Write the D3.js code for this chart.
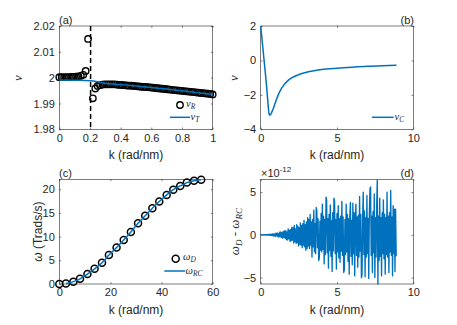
<!DOCTYPE html>
<html><head><meta charset="utf-8">
<script src="https://cdn.jsdelivr.net/npm/d3@7"></script>
<style>body{margin:0;background:#fff} svg{display:block}</style>
</head><body>
<svg id="c" width="457" height="325"></svg>
<script>
// ---------- Panel (a) ----------
const kR = [0,0.0156,0.0313,0.0469,0.0625,0.0781,0.0938,0.1094,0.125,0.1406,0.1563,0.1719,0.1875,
  0.2188,0.2344,0.25,0.2656,0.2813,0.2969,0.3125,0.3281,0.3438,0.3594,0.375,0.3906,0.4063,0.4219,0.4375,
  0.4531,0.4688,0.4844,0.5,0.5156,0.5313,0.5469,0.5625,0.5781,0.5938,0.6094,0.625,0.6406,0.6563,0.6719,
  0.6875,0.7031,0.7188,0.7344,0.75,0.7656,0.7813,0.7969,0.8125,0.8281,0.8438,0.8594,0.875,0.8906,0.9063,
  0.9219,0.9375,0.9531,0.9688,0.9844,1.0];
const nuR = [2.0002,2.0002,2.0002,2.0002,2.0002,2.0003,2.0003,2.0004,2.0005,2.0007,2.0011,2.0026,2.0150,
  1.9920,1.9958,1.9968,1.9971,1.9973,1.9974,1.9974,1.9974,1.9974,1.9974,1.9973,1.9972,1.9972,1.9971,1.9970,
  1.9969,1.9969,1.9968,1.9967,1.9966,1.9965,1.9964,1.9964,1.9963,1.9962,1.9961,1.9960,1.9959,1.9958,1.9957,
  1.9956,1.9955,1.9954,1.9953,1.9952,1.9951,1.9950,1.9949,1.9948,1.9947,1.9946,1.9945,1.9944,1.9943,1.9942,
  1.9941,1.9940,1.9939,1.9938,1.9937,1.9935];
const kT = [0,0.1,0.2,0.25,0.3,0.35,0.4,0.5,0.6,0.7,0.8,0.9,1.0];
const nuT = [1.9991,1.9990,1.9988,1.9984,1.9978,1.9975,1.9973,1.9968,1.9962,1.9956,1.9949,1.9942,1.9935];
const kRes = 0.204;
const aXTicks = [0,0.2,0.4,0.6,0.8,1];
const aYTicks = [1.98,1.99,2,2.01,2.02];

// ---------- Panel (b) ----------
const kC = [0,0.1,0.2,0.3,0.4,0.45,0.5,0.55,0.6,0.65,0.7,0.8,0.9,1.0,1.15,1.3,1.5,1.75,2.0,2.5,3,3.5,4,5,6,7,8,8.9];
const nuC = [2.0,1.1,0.2,-0.7,-1.65,-2.2,-2.75,-3.1,-3.18,-3.15,-3.05,-2.85,-2.6,-2.35,-2.0,-1.72,-1.45,-1.2,-1.03,-0.82,-0.69,-0.6,-0.53,-0.45,-0.39,-0.34,-0.31,-0.28];
const bXTicks = [0,5,10];
const bYTicks = [-4,-2,0,2];

// ---------- Panel (c) ----------
const kD = [0,2.6,5.5,8.1,11.0,13.8,16.7,19.4,22.4,25.2,28.0,30.8,33.6,36.4,39.1,42.0,44.6,47.3,49.9,52.7,55.5];
const wD = [0,0.1,0.5,1.1,2.1,3.2,4.5,6.1,7.7,9.3,11.0,12.8,14.4,16.0,17.4,18.8,19.9,20.7,21.4,21.8,22.0];
const kRC = [2.6,5.5,8.1,11.0,13.8,16.7,19.4,22.4,25.2,28.0,30.8,33.6,36.4,39.1,42.0,44.6,47.3,49.9,52.7,55.5];
const wRC = [0.1,0.5,1.1,2.1,3.2,4.5,6.1,7.7,9.3,11.0,12.8,14.4,16.0,17.4,18.8,19.9,20.7,21.4,21.8,22.0];
const cXTicks = [0,20,40,60];
const cYTicks = [0,5,10,15,20];

// ---------- Panel (d) ---------- (difference, units of 1e-12)
const kDiffStart = 0, kDiffStep = 0.04;
const wDiff = [
  0.00,0.02,-0.02,0.03,-0.02,0.02,-0.03,0.03,-0.02,0.04,
  -0.04,0.05,-0.03,0.06,-0.05,0.08,-0.06,0.07,-0.09,0.1,
  -0.1,0.12,-0.15,0.1,-0.18,0.2,-0.12,0.22,-0.2,0.15,
  -0.25,0.3,-0.2,0.35,-0.3,0.25,-0.38,0.4,-0.3,0.45,
  -0.4,0.5,-0.55,0.35,-0.6,0.7,-0.45,0.55,-0.75,0.6,
  -0.7,0.9,-0.6,0.8,-0.95,1.1,-0.8,0.7,-1.0,1.2,
  -0.9,1.0,-1.3,0.85,-1.1,1.4,-1.2,1.1,-1.5,1.3,
  -1.2,1.7,-1.4,1.2,-1.8,1.5,-1.6,2.0,-1.3,1.8,
  -1.6,2.4,-1.2,1.5,-2.6,1.8,-1.4,2.9,-2.0,1.3,
  -2.2,3.2,2.8,-1.5,1.9,-3.0,-2.7,1.6,-1.8,2.5,
  -2.0,3.6,-1.7,2.2,-3.4,1.8,-2.3,4.4,4.1,-2.1,
  1.9,-3.9,2.4,-1.8,3.5,-2.5,1.7,-4.3,2.6,-1.9,
  4.3,4.0,-2.2,1.8,-4.0,2.5,-2.0,3.4,-2.7,1.9,
  -3.2,2.2,-1.9,3.9,-2.4,2.1,-4.4,-4.1,1.8,-2.3,
  3.6,-2.0,2.4,-3.1,1.9,-4.6,2.2,3.8,-2.5,1.7,
  -3.5,3.7,-2.2,2.6,-4.8,1.9,3.6,-2.4,2.1,-3.8,
  2.3,-2.6,4.5,-1.9,2.4,-5.0,-4.7,2.2,5.0,-2.3,
  2.8,-4.9,2.0,-2.6,4.6,-2.2,1.9,-5.1,2.5,5.4,
  5.6,-2.4,2.2,-4.4,2.7,-2.1,4.8,-5.0,2.0,-2.6,
  3.4,6.45,-5.75,2.2,-3.0,4.3,-2.5,2.0,-4.8,2.6,
  -2.2,4.1,-2.8,2.4,-4.6,2.0,-2.3,5.0,-2.6,2.2,
  -4.4,2.6,-2.0,5.2,-2.4,2.1,-4.8,3.4,-2.2,3.0,
  -4.3,3.0,-2.5];
const dXTicks = [0,5,10];
const dYTicks = [-5,0,5];

const BLUE = "#0072BD", TXT = "#262626", AXC = "#262626";
const svg = d3.select("#c");
const TICKFONT = "Liberation Sans, Arial, sans-serif";
const SERIF = "Liberation Serif, Times New Roman, serif";

function makeAxes(box, xd, yd, xt, yt) {
  const x = d3.scaleLinear().domain(xd).range([box.x0, box.x1]);
  const y = d3.scaleLinear().domain(yd).range([box.y1, box.y0]);
  const g = svg.append("g");
  const tl = 1.8;
  const style = sel => {
    sel.select(".domain").remove();
    sel.selectAll(".tick line").attr("stroke", AXC).attr("stroke-width", 0.6);
    sel.selectAll(".tick text").attr("fill", TXT).style("font-family", TICKFONT).style("font-size", "11px");
  };
  g.append("g").attr("transform", `translate(0,${box.y1})`)
    .call(d3.axisBottom(x).tickValues(xt).tickSize(-tl).tickPadding(4.5).tickFormat(d3.format("~g"))).call(style);
  g.append("g").attr("transform", `translate(0,${box.y0})`)
    .call(d3.axisTop(x).tickValues(xt).tickSize(-tl).tickFormat("")).call(style);
  g.append("g").attr("transform", `translate(${box.x0},0)`)
    .call(d3.axisLeft(y).tickValues(yt).tickSize(-tl).tickPadding(4.5).tickFormat(d3.format("~g"))).call(style);
  g.append("g").attr("transform", `translate(${box.x1},0)`)
    .call(d3.axisRight(y).tickValues(yt).tickSize(-tl).tickFormat("")).call(style);
  g.append("rect").attr("x", box.x0).attr("y", box.y0).attr("width", box.x1 - box.x0).attr("height", box.y1 - box.y0)
    .attr("fill", "none").attr("stroke", AXC).attr("stroke-width", 0.6);
  svg.append("text").attr("x", (box.x0 + box.x1) / 2).attr("y", box.y1 + 30).attr("text-anchor", "middle")
    .attr("fill", TXT).style("font-family", TICKFONT).style("font-size", "12px").text("k (rad/nm)");
  return {x, y};
}

function legendSub(x, yb, main, sub, size) {
  const t = svg.append("text").attr("x", x).attr("y", yb).attr("fill", TXT)
    .style("font-family", SERIF).style("font-style", "italic").style("font-size", size + "px");
  t.append("tspan").text(main);
  t.append("tspan").attr("dy", 2).style("font-size", (size * 0.7) + "px").text(sub);
  return t;
}
function rotLabel(cx, cy, build) {
  const t = svg.append("text").attr("transform", `translate(${cx},${cy}) rotate(-90)`).attr("text-anchor", "middle").attr("fill", TXT);
  build(t);
}

// ---- (a)
const boxA = {x0: 59.3, x1: 212.7, y0: 26, y1: 129.3};
const A = makeAxes(boxA, [0, 1], [1.98, 2.02], aXTicks, aYTicks);
svg.append("line").attr("x1", A.x(kRes)).attr("x2", A.x(kRes)).attr("y1", A.y(2.02)).attr("y2", A.y(1.98))
  .attr("stroke", "#000").attr("stroke-width", 1.5).attr("stroke-dasharray", "5,3");
svg.append("g").selectAll("circle").data(kR.map((k, i) => [k, nuR[i]])).join("circle")
  .attr("cx", d => A.x(d[0])).attr("cy", d => A.y(d[1])).attr("r", 3.2)
  .attr("fill", "none").attr("stroke", "#000").attr("stroke-width", 1.4);
svg.append("path").datum(kT.map((k, i) => [k, nuT[i]]))
  .attr("d", d3.line().x(d => A.x(d[0])).y(d => A.y(d[1])).curve(d3.curveMonotoneX))
  .attr("fill", "none").attr("stroke", BLUE).attr("stroke-width", 1.5);
rotLabel(22, 78, t => t.style("font-family", SERIF).style("font-style", "italic").style("font-size", "13px").text("ν"));
svg.append("text").attr("x", 59).attr("y", 23.5).attr("fill", TXT).style("font-family", TICKFONT).style("font-size", "11px").text("(a)");
svg.append("circle").attr("cx", 180).attr("cy", 105).attr("r", 3.2).attr("fill", "none").attr("stroke", "#000").attr("stroke-width", 1.4);
legendSub(186, 106.5, "ν", "R", 10.5);
svg.append("line").attr("x1", 170).attr("x2", 190).attr("y1", 117.3).attr("y2", 117.3).attr("stroke", BLUE).attr("stroke-width", 1.5);
legendSub(190.5, 119.8, "ν", "T", 10.5);

// ---- (b)
const boxB = {x0: 260.7, x1: 413.3, y0: 26, y1: 129.3};
const B = makeAxes(boxB, [0, 10], [-4, 2], bXTicks, bYTicks);
svg.append("path").datum(kC.map((k, i) => [k, nuC[i]]))
  .attr("d", d3.line().x(d => B.x(d[0])).y(d => B.y(d[1])).curve(d3.curveMonotoneX))
  .attr("fill", "none").attr("stroke", BLUE).attr("stroke-width", 1.5);
rotLabel(238, 78, t => t.style("font-family", SERIF).style("font-style", "italic").style("font-size", "13px").text("ν"));
svg.append("text").attr("x", 414).attr("y", 23.5).attr("text-anchor", "end").attr("fill", TXT).style("font-family", TICKFONT).style("font-size", "11px").text("(b)");
svg.append("line").attr("x1", 372).attr("x2", 393.7).attr("y1", 117.3).attr("y2", 117.3).attr("stroke", BLUE).attr("stroke-width", 1.5);
legendSub(394.5, 119.8, "ν", "C", 10.5);

// ---- (c)
const boxC = {x0: 59.3, x1: 212.7, y0: 179.3, y1: 284};
const C = makeAxes(boxC, [0, 60], [0, 22.1], cXTicks, cYTicks);
svg.append("g").selectAll("circle").data(kD.map((k, i) => [k, wD[i]])).join("circle")
  .attr("cx", d => C.x(d[0])).attr("cy", d => C.y(d[1])).attr("r", 3.5)
  .attr("fill", "none").attr("stroke", "#000").attr("stroke-width", 1.5);
svg.append("path").datum(kRC.map((k, i) => [k, wRC[i]]))
  .attr("d", d3.line().x(d => C.x(d[0])).y(d => C.y(d[1])).curve(d3.curveMonotoneX))
  .attr("fill", "none").attr("stroke", BLUE).attr("stroke-width", 1.5);
rotLabel(42, 231.6, t => {
  t.style("font-family", TICKFONT).style("font-size", "12px");
  t.append("tspan").style("font-style", "italic").text("ω");
  t.append("tspan").text(" (Trads/s)");
});
svg.append("text").attr("x", 59).attr("y", 177).attr("fill", TXT).style("font-family", TICKFONT).style("font-size", "11px").text("(c)");
svg.append("circle").attr("cx", 175.7).attr("cy", 258.7).attr("r", 3.5).attr("fill", "none").attr("stroke", "#000").attr("stroke-width", 1.5);
legendSub(183, 260.3, "ω", "D", 10.5);
svg.append("line").attr("x1", 164.3).attr("x2", 185).attr("y1", 271).attr("y2", 271).attr("stroke", BLUE).attr("stroke-width", 1.5);
legendSub(185.5, 273.5, "ω", "RC", 10.5);

// ---- (d)
const boxD = {x0: 260.7, x1: 413.3, y0: 179.3, y1: 284};
const D = makeAxes(boxD, [0, 10], [-5.75, 6.5], dXTicks, dYTicks);
svg.append("path").datum(wDiff.map((v, i) => [kDiffStart + i * kDiffStep, v]))
  .attr("d", d3.line().x(d => D.x(d[0])).y(d => D.y(d[1])))
  .attr("fill", "none").attr("stroke", BLUE).attr("stroke-width", 1.35).attr("stroke-linejoin", "round");
rotLabel(239, 231.6, t => {
  t.style("font-family", SERIF).style("font-style", "italic").style("font-size", "13px");
  t.append("tspan").text("ω");
  t.append("tspan").attr("dy", 2.5).style("font-size", "9px").text("D");
  t.append("tspan").attr("dy", -2.5).text(" - ω");
  t.append("tspan").attr("dy", 2.5).style("font-size", "9px").text("RC");
});
svg.append("text").attr("x", 414).attr("y", 177).attr("text-anchor", "end").attr("fill", TXT).style("font-family", TICKFONT).style("font-size", "11px").text("(d)");
const sci = svg.append("text").attr("x", 261).attr("y", 177).attr("fill", TXT).style("font-family", TICKFONT).style("font-size", "11px");
sci.append("tspan").text("×10");
sci.append("tspan").attr("dy", -5).style("font-size", "8px").text("-12");
</script>
</body></html>
